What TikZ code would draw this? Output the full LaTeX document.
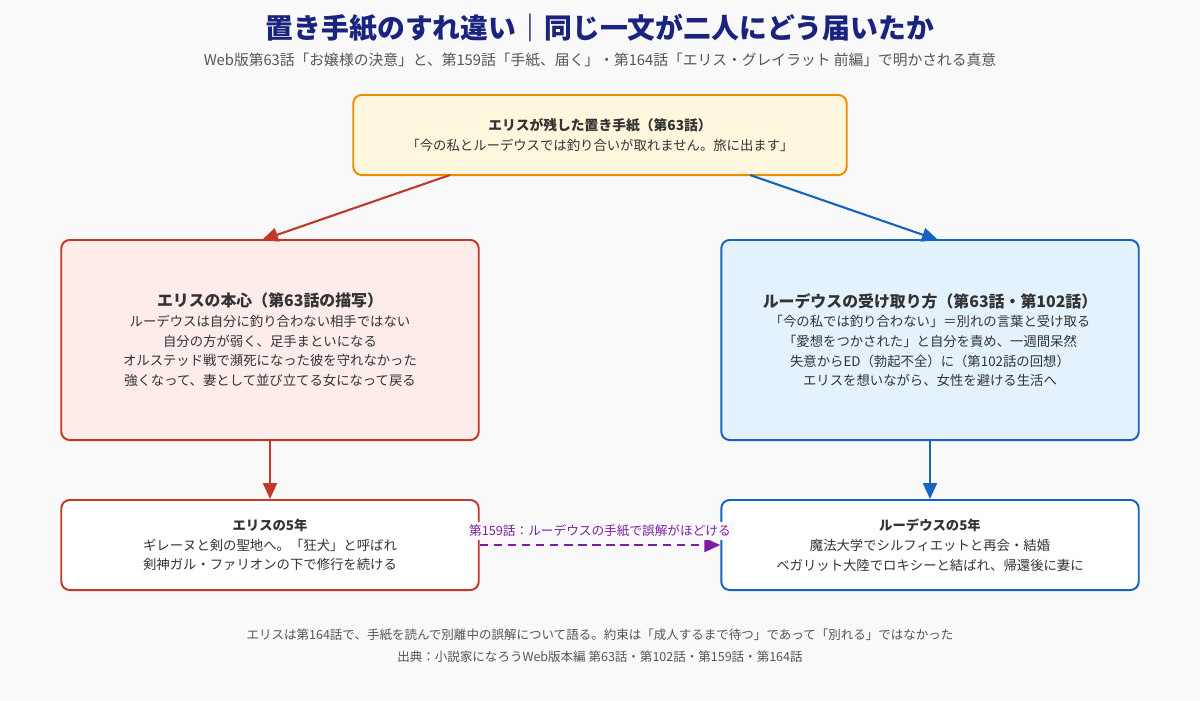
\documentclass[tikz,border=0pt]{standalone}
\usepackage{fontspec}
\setmainfont{Noto Sans CJK JP}
\usetikzlibrary{arrows.meta, positioning}
\definecolor{bgc}{HTML}{F9F9F9}
\definecolor{titlec}{HTML}{1A237E}
\definecolor{orangec}{HTML}{F08C00}
\definecolor{orangef}{HTML}{FFF6DE}
\definecolor{redc}{HTML}{C0392B}
\definecolor{redf}{HTML}{FDECEA}
\definecolor{bluec}{HTML}{1565C0}
\definecolor{bluef}{HTML}{E3F2FD}
\definecolor{purplec}{HTML}{7B1FA2}
\definecolor{textc}{HTML}{333333}
\definecolor{greyc}{HTML}{555555}

\begin{document}
\begin{tikzpicture}[
    x=0.025cm, y=-0.025cm,
    box/.style={rectangle, rounded corners=6pt, line width=1.4pt, align=center, text=textc, font=\fontsize{9.5}{14}\selectfont},
    arrow/.style={-{Triangle[length=4mm, width=3.5mm]}, line width=1.5pt}
]
\fill[bgc] (0,0) rectangle (1200,700);

% Title
\node[text=titlec, font=\fontsize{19.8}{24}\selectfont\bfseries] (title) at (600,28) {置き手紙のすれ違い｜同じ一文が二人にどう届いたか};
\node[text=greyc, font=\fontsize{10.5}{13}\selectfont] (subtitle) at (600,60) {Web版第63話「お嬢様の決意」と、第159話「手紙、届く」・第164話「エリス・グレイラット 前編」で明かされる真意};

% Letter
\node[box, draw=orangec, fill=orangef, text width=12.1cm, minimum height=2cm] (letter) at (600,135)
  {{\bfseries\fontsize{9.8}{15}\selectfont エリスが残した置き手紙（第63話）}\\「今の私とルーデウスでは釣り合いが取れません。旅に出ます」};

% Two readings
\node[box, draw=redc, fill=redf, text width=10.2cm, minimum height=5cm] (eris) at (270,340)
  {{\bfseries\fontsize{11.3}{17}\selectfont エリスの本心（第63話の描写）}\\ルーデウスは自分に釣り合わない相手ではない\\自分の方が弱く、足手まといになる\\オルステッド戦で瀕死になった彼を守れなかった\\強くなって、妻として並び立てる女になって戻る};
\node[box, draw=bluec, fill=bluef, text width=10.2cm, minimum height=5cm] (rudeus) at (930,340)
  {{\bfseries\fontsize{11.3}{17}\selectfont ルーデウスの受け取り方（第63話・第102話）}\\「今の私では釣り合わない」＝別れの言葉と受け取る\\「愛想をつかされた」と自分を責め、一週間呆然\\失意からED（勃起不全）に（第102話の回想）\\エリスを想いながら、女性を避ける生活へ};

% Five years
\node[box, draw=redc, fill=white, text width=10.2cm, minimum height=2.25cm] (erisyears) at (270,545)
  {{\bfseries エリスの5年}\\ギレーヌと剣の聖地へ。「狂犬」と呼ばれ\\剣神ガル・ファリオンの下で修行を続ける};
\node[box, draw=bluec, fill=white, text width=10.2cm, minimum height=2.25cm] (rudeusyears) at (930,545)
  {{\bfseries ルーデウスの5年}\\魔法大学でシルフィエットと再会・結婚\\ベガリット大陸でロキシーと結ばれ、帰還後に妻に};

% Arrows
\coordinate (l1) at (450,175);
\coordinate (l2) at (750,175);
\coordinate (e1) at (262,240);
\coordinate (r1) at (938,240);
\draw[arrow, redc] (l1) -- (e1);
\draw[arrow, bluec] (l2) -- (r1);
\draw[arrow, redc] (eris) -- (erisyears);
\draw[arrow, bluec] (rudeus) -- (rudeusyears);
\draw[arrow, purplec, dashed, dash pattern=on 6pt off 4pt] (erisyears.east) -- (rudeusyears.west)
  node[midway, above=3pt, fill=bgc, text=purplec, font=\fontsize{9}{11}\selectfont, inner sep=2pt] {第159話：ルーデウスの手紙で誤解がほどける};

% Footer
\node[text=greyc, font=\fontsize{8.9}{11}\selectfont] (note) at (600,635) {エリスは第164話で、手紙を読んで別離中の誤解について語る。約束は「成人するまで待つ」であって「別れる」ではなかった};
\node[text=greyc, font=\fontsize{8.9}{11}\selectfont] (source) at (600,657) {出典：小説家になろうWeb版本編 第63話・第102話・第159話・第164話};
\end{tikzpicture}
\end{document}
